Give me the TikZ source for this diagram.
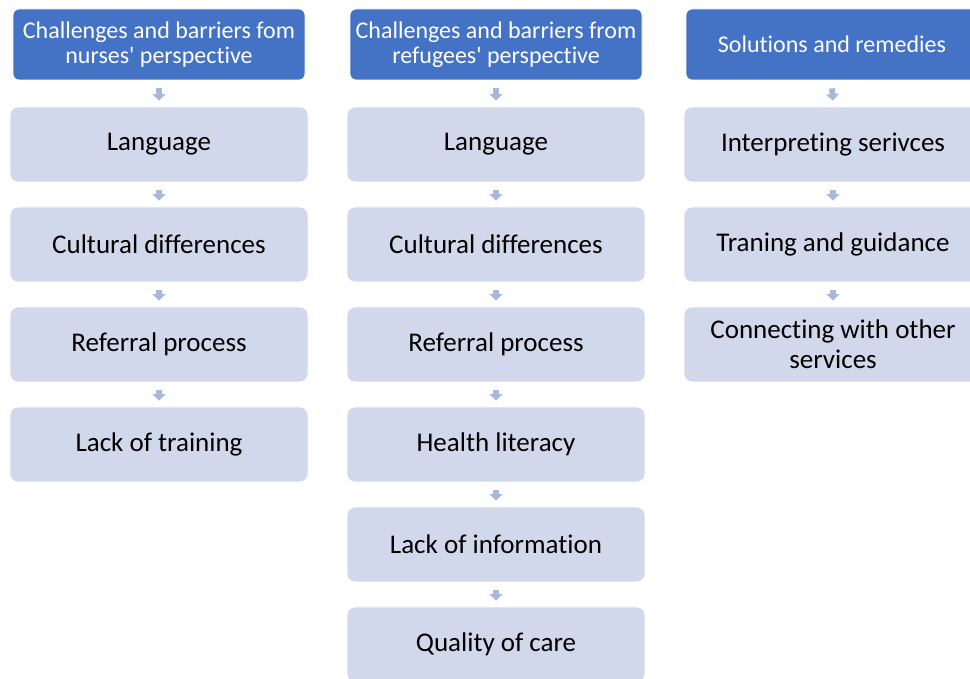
\documentclass[tikz,border=0pt]{standalone}
\usepackage{fontspec}
\setmainfont[Ligatures={NoCommon}]{Carlito}
\usetikzlibrary{arrows.meta}
\definecolor{hdrblue}{HTML}{4472C4}
\definecolor{boxblue}{HTML}{D2D8EB}
\definecolor{arrblue}{HTML}{A9B7DC}
\tikzset{
  x=1pt,y=1pt,
  hdr/.style={draw=white,line width=0.8pt,fill=hdrblue,rounded corners=6pt,minimum width=292pt,minimum height=71pt,
    text=white,font=\fontsize{24}{25}\selectfont,align=center,inner sep=0pt},
  item/.style={draw=white,line width=0.8pt,fill=boxblue,rounded corners=8pt,minimum width=298pt,minimum height=75pt,
    text=black,font=\fontsize{27}{30}\selectfont,align=center,inner sep=0pt},
  flow/.style={draw=arrblue,line width=6pt,-{Triangle[width=13pt,length=6.5pt]}},
}
\begin{document}
\begin{tikzpicture}
\useasboundingbox (0,0) rectangle (970,678);
\clip (0,0) rectangle (970,678);
% column 1
\node[hdr] (h1) at (159,633.5) {Challenges and barriers fom\\nurses\textquotesingle{} perspective};
\node[item] (a1) at (159,533.5) {Language};
\node[item] (a2) at (159,433.5) {Cultural differences};
\node[item] (a3) at (159,333.5) {Referral process};
\node[item] (a4) at (159,233.5) {Lack of training};
% column 2
\node[hdr] (h2) at (496,633.5) {Challenges and barriers from\\refugees\textquotesingle{} perspective};
\node[item] (b1) at (496,533.5) {Language};
\node[item] (b2) at (496,433.5) {Cultural differences};
\node[item] (b3) at (496,333.5) {Referral process};
\node[item] (b4) at (496,233.5) {Health literacy};
\node[item] (b5) at (496,133.5) {Lack of information};
\node[item] (b6) at (496,33.5) {Quality of care};
% column 3
\node[hdr] (h3) at (832,633.5) {Solutions and remedies};
\node[item] (c1) at (833,533.5) {Interpreting serivces};
\node[item] (c2) at (833,433.5) {Traning and guidance};
\node[item] (c3) at (833,333.5) {Connecting with other\\services};
% arrows
\foreach \u/\v in {h1/a1,a1/a2,a2/a3,a3/a4,h2/b1,b1/b2,b2/b3,b3/b4,b4/b5,b5/b6,h3/c1,c1/c2,c2/c3}{
  \draw[flow] ([yshift=-8pt]\u.south) -- ([yshift=6pt]\v.north);
}
\end{tikzpicture}
\end{document}
